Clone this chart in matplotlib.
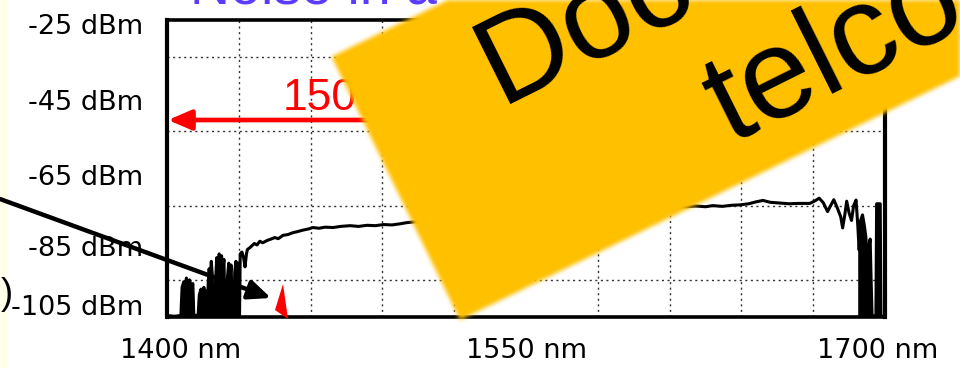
import numpy as np
import matplotlib
matplotlib.use("Agg")
import matplotlib.pyplot as plt
from matplotlib import transforms
from matplotlib.patches import Polygon, Rectangle

plt.rcParams["font.family"] = ["Liberation Sans", "DejaVu Sans"]

# ---- spectrum trace (wavelength in nm, power in dBm) ----
wavelength_nm = [
    1400.0, 1403.0, 1405.8, 1406.3, 1407.0, 1407.6, 1408.1, 1408.8, 1409.4, 1410.2,
    1410.8, 1411.2, 1413.0, 1413.5, 1414.2, 1414.8, 1415.4, 1416.0, 1416.6, 1416.9,
    1417.2, 1417.6, 1418.0, 1418.5, 1418.9, 1419.2, 1419.9, 1420.3, 1420.8, 1421.3,
    1421.8, 1422.3, 1422.8, 1423.3, 1423.8, 1424.2, 1424.9, 1425.3, 1425.8, 1426.3,
    1426.8, 1427.3, 1427.9, 1428.3, 1428.8, 1429.3, 1429.8, 1430.3,
    1430.6, 1431.3, 1432.0, 1432.6, 1433.2, 1433.6, 1434.5, 1435.5, 1436.5, 1437.6,
    1438.8, 1440.0, 1441.8, 1443.5, 1445.0, 1446.5, 1448.5, 1450.5, 1452.6, 1454.5,
    1456.8, 1459.0, 1461.0, 1463.5, 1466.0, 1469.4, 1472.5, 1476.5, 1480.0, 1483.6,
    1487.0, 1490.5, 1494.0, 1497.4, 1500.0, 1503.0,
    1510.0, 1520.0, 1530.0, 1540.0, 1550.0, 1560.0, 1570.0, 1580.0, 1590.0, 1600.0,
    1610.0,
    1617.3, 1621.0, 1625.0, 1628.0, 1632.0, 1636.0, 1639.4, 1643.0, 1646.0, 1649.0,
    1652.0, 1656.0, 1660.0, 1664.0, 1668.6, 1670.5, 1672.5, 1674.2, 1676.0, 1677.3,
    1678.6, 1680.0, 1681.5, 1682.3, 1683.2, 1684.0, 1685.0, 1686.0, 1686.9, 1687.9,
    1688.6, 1689.2, 1689.8, 1690.6, 1691.4, 1692.0, 1692.5, 1692.9, 1693.3, 1693.8,
    1694.2, 1694.6, 1696.2, 1696.5, 1698.0, 1698.3, 1700.0,
]
power_dbm = [
    -104.6, -104.8, -104.6, -97.0, -95.5, -98.0, -94.5, -97.5, -95.0, -97.0,
    -96.0, -104.5, -104.6, -99.0, -97.5, -100.0, -97.0, -99.5, -98.0, -104.4,
    -96.0, -92.0, -95.0, -90.0, -93.5, -104.5, -104.6, -95.0, -89.0, -93.0,
    -88.0, -92.0, -88.5, -92.5, -89.5, -104.5, -104.6, -94.0, -90.5, -94.5,
    -91.0, -104.4, -104.6, -93.0, -90.0, -94.0, -90.5, -104.5,
    -88.0, -87.5, -89.0, -91.5, -88.0, -86.8, -86.4, -85.8, -85.2, -85.6,
    -84.6, -85.0, -84.4, -84.0, -83.6, -83.9, -83.0, -82.8, -82.3, -82.0,
    -81.6, -81.3, -80.9, -81.1, -80.8, -80.9, -80.6, -80.4, -80.6, -80.3,
    -80.4, -80.1, -80.2, -79.9, -79.6, -79.4,
    -79.0, -78.4, -77.8, -77.2, -76.6, -76.1, -75.8, -75.6, -75.5, -75.4,
    -75.4,
    -75.3, -75.1, -75.3, -75.0, -75.2, -74.9, -74.8, -74.5, -74.0, -73.6,
    -74.1, -74.3, -74.5, -74.4, -74.4, -73.8, -73.0, -74.2, -76.6, -75.0,
    -73.4, -75.5, -78.0, -81.0, -77.5, -73.8, -77.0, -79.0, -75.0, -73.5,
    -80.0, -87.0, -79.0, -77.5, -80.5, -83.5, -88.0, -104.0, -86.0, -84.0,
    -95.0, -104.6, -104.8, -74.5, -74.5, -104.8, -104.8,
]

x_ticks = [1400, 1550, 1700]
x_labels = ["1400 nm", "1550 nm", "1700 nm"]
y_ticks = [-25, -45, -65, -85, -105]
y_labels = ["-25 dBm", "-45 dBm", "-65 dBm", "-85 dBm", "-105 dBm"]

W, H = 960, 368
fig = plt.figure(figsize=(W / 100, H / 100), dpi=100)
fig.patch.set_facecolor("white")

# ---- instrument trace panel ----
ax = fig.add_axes([167 / W, 1 - 317 / H, (885 - 167) / W, (317 - 20) / H])
wl = np.array(wavelength_nm)
pw = np.array(power_dbm)
ax.plot(wl, pw, color="black", lw=2.2, zorder=3)
# noise bursts below 1431 nm and the band-edge collapse show as solid blocks
burst = wl <= 1430.3
edge = wl >= 1688.6
ax.fill_between(wl[burst], -105, pw[burst], color="black", lw=0, zorder=3)
ax.fill_between(wl[edge], -105, pw[edge], color="black", lw=0, zorder=3)
ax.set_xlim(1400, 1700)
ax.set_ylim(-105, -25)

ax.set_xticks(x_ticks, labels=x_labels)
ax.set_yticks(y_ticks, labels=y_labels)
ax.set_xticks(np.arange(1400, 1701, 30), minor=True)
ax.set_yticks(np.arange(-105, -24, 10), minor=True)
ax.tick_params(which="both", length=0)
ax.tick_params(axis="y", labelsize=19.5, pad=17)
ax.tick_params(axis="x", labelsize=19.5, pad=15)
for lab in ax.get_xticklabels() + ax.get_yticklabels():
    lab.set_fontfamily("DejaVu Sans")
ax.grid(which="minor", color="#333333", lw=1.0, linestyle=(0, (1.5, 2.5)))
ax.grid(which="major", visible=False)
for side, w in (("left", 3.0), ("right", 3.0), ("top", 2.6), ("bottom", 2.6)):
    ax.spines[side].set_linewidth(w)
    ax.spines[side].set_color("black")

# nudge individual labels (pixel offsets: right, down)
y_shift = [4, 6, 6, 3, -12]
x_shift = [14, 0, -7]
for lab, d in zip(ax.get_yticklabels(), y_shift):
    lab.set_transform(lab.get_transform()
                      + transforms.ScaledTranslation(0, -d / 100, fig.dpi_scale_trans))
for lab, d in zip(ax.get_xticklabels(), x_shift):
    lab.set_transform(lab.get_transform()
                      + transforms.ScaledTranslation(d / 100, 0, fig.dpi_scale_trans))

# ---- slide overlay (pixel coordinates, origin top-left) ----
ov = fig.add_axes([0, 0, 1, 1], zorder=5)
ov.set_xlim(0, W)
ov.set_ylim(H, 0)
ov.axis("off")

ov.add_patch(Rectangle((0, 0), 7, H, fc="#FFFFEA", ec="none", zorder=0))

ov.text(190, 3, "Noise in a", fontsize=40, color="#5A3CFF",
        ha="left", va="baseline", zorder=1)

ov.annotate("", xy=(168, 120), xytext=(370, 120),
            arrowprops=dict(arrowstyle="-|>,head_length=1.4,head_width=0.6",
                            color="#FF0000", lw=3.4, mutation_scale=10,
                            shrinkA=0, shrinkB=0), zorder=2)
ov.text(283, 110, "150", fontsize=32, color="#FF0000",
        ha="left", va="baseline", zorder=2)


def soften(img, dpi, k=5, passes=2):
    pad = k * passes
    a = np.pad(img, ((pad, pad), (pad, pad), (0, 0)))
    alpha = a[..., 3:4]
    prem = a[..., :3] * alpha
    stack = np.concatenate([prem, alpha], axis=2)
    for _ in range(passes):
        for axis in (0, 1):
            padw = [(0, 0)] * 3
            padw[axis] = (k // 2, k // 2)
            s = np.pad(stack, padw, mode="edge")
            stack = np.lib.stride_tricks.sliding_window_view(s, k, axis=axis).mean(axis=-1)
    out_a = stack[..., 3:4]
    rgb = np.where(out_a > 1e-6, stack[..., :3] / np.maximum(out_a, 1e-6), 0)
    return np.concatenate([rgb, out_a], axis=2), -pad, -pad


theta = np.deg2rad(26.0)
u = np.array([np.cos(theta), -np.sin(theta)])
n = np.array([-np.sin(theta), -np.cos(theta)])
corner_b = np.array([460.0, 320.0])
corner_a = corner_b + 293 * n
banner = Polygon([corner_a, corner_b, corner_b + 1200 * u, corner_a + 1200 * u],
                 closed=True, fc="#FFC000", ec="none", zorder=3)
banner.set_agg_filter(soften)
ov.add_patch(banner)

ov.text(500, 104, "Doc", fontsize=90, color="black", rotation=26.5,
        rotation_mode="anchor", ha="left", va="baseline", zorder=4)
ov.text(730, 144, "telco", fontsize=92, color="black", rotation=26.5,
        rotation_mode="anchor", ha="left", va="baseline", zorder=4)

ov.annotate("", xy=(271, 298), xytext=(0, 199),
            arrowprops=dict(arrowstyle="-|>,head_length=1.5,head_width=0.65",
                            color="black", lw=3.2, mutation_scale=9,
                            shrinkA=0, shrinkB=0), zorder=5)
ov.add_patch(Polygon([(275, 310), (283, 284), (288, 319)], closed=True,
                     fc="#FF0000", ec="none", zorder=5))
ov.text(13, 294, ")", fontsize=26, color="black", ha="right", va="center", zorder=5)

fig.savefig("out.png", dpi=100)
